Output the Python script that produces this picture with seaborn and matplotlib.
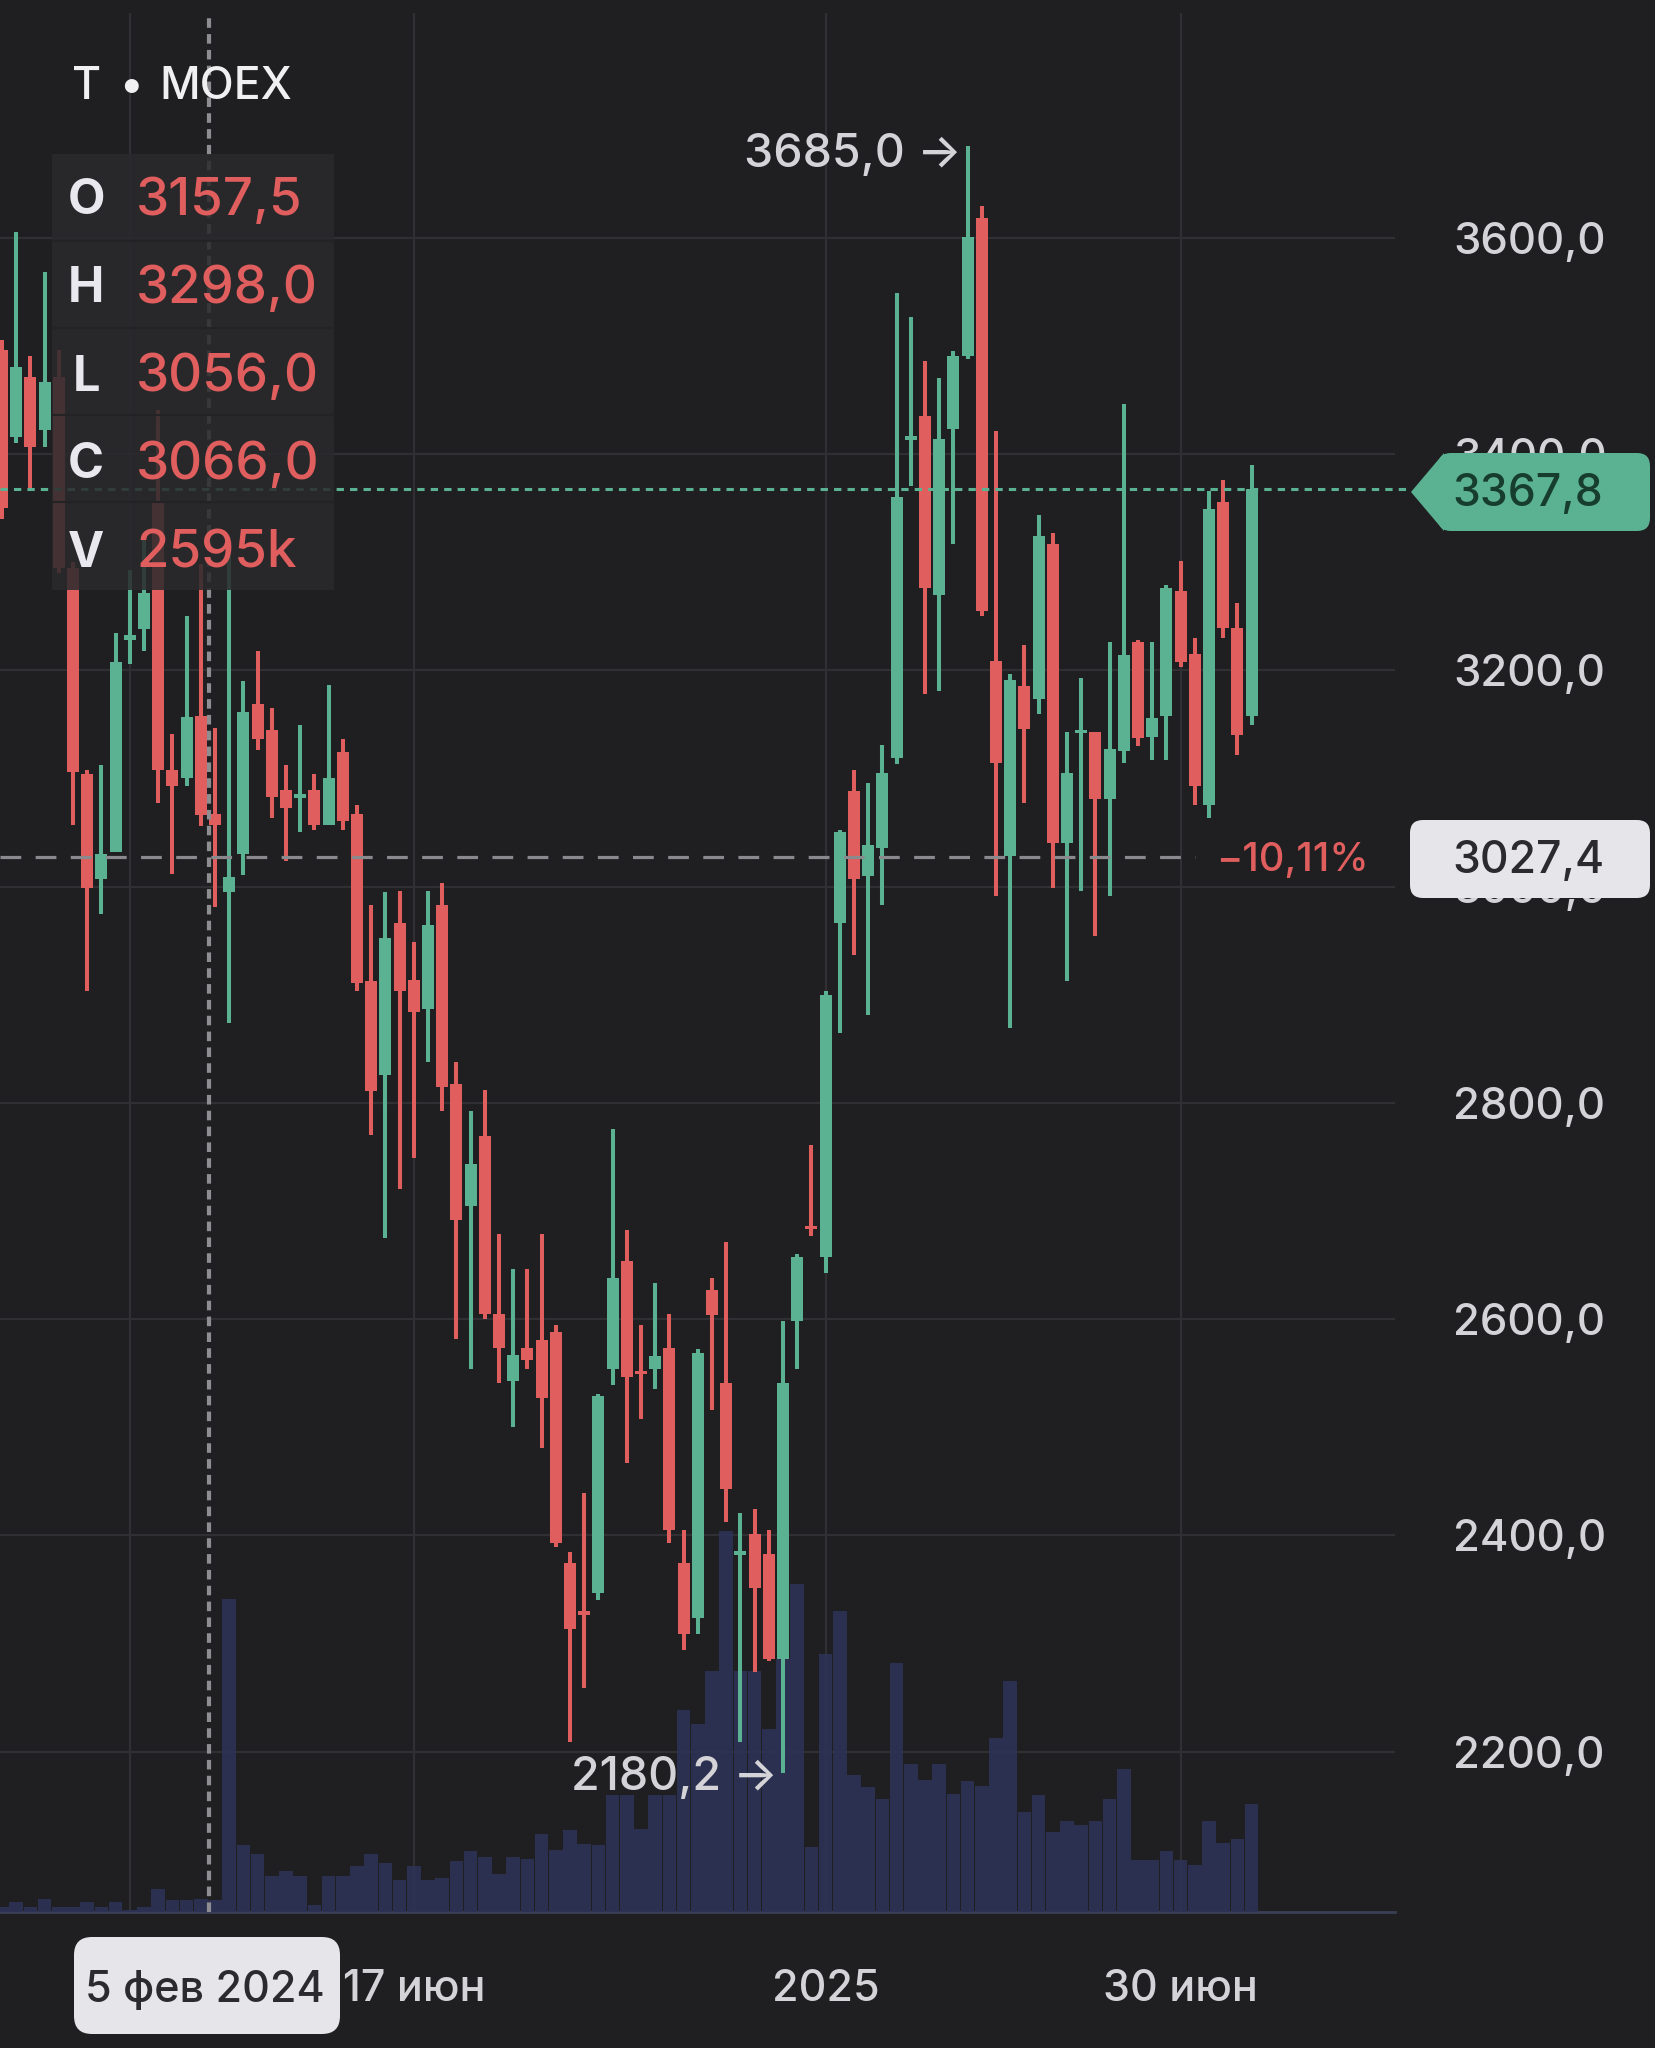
import matplotlib
matplotlib.use("Agg")
import matplotlib.pyplot as plt
from matplotlib.patches import FancyBboxPatch, Polygon, Rectangle
from matplotlib.transforms import IdentityTransform, offset_copy
from matplotlib.lines import Line2D
import numpy as np
import pandas as pd
import seaborn as sns

# ---------------- data (weekly candles, T on MOEX) ----------------
opens = [3496, 3416, 3471, 3422, 3471, 3295, 3104, 3007, 3032, 3228,
         3238, 3355, 3108, 3100, 3157.5, 3067, 2995, 3030, 3169, 3145,
         3089, 3082, 3089, 3057, 3124, 3067, 2913, 2826, 2966, 2914,
         2887, 2983, 2817, 2705, 2769, 2605, 2543, 2573, 2581, 2588,
         2374, 2330, 2347, 2554, 2654, 2551, 2554, 2573, 2374, 2324,
         2627, 2541, 2382, 2401, 2383, 2286, 2598, 2686, 2657, 2966,
         3088, 3010, 3036, 3119, 3413, 3435, 3270, 3423, 3491, 3618,
         3209, 3028, 3185, 3173, 3317, 3040, 3142, 3143, 3081, 3125,
         3226, 3138, 3158, 3273, 3215, 3075, 3356, 3239, 3158]
highs = [3505, 3605, 3491, 3568, 3496, 3300, 3108, 3112, 3234, 3293,
         3320, 3441, 3141, 3250, 3298, 3147, 3306, 3190, 3218, 3165,
         3112, 3149, 3104, 3186, 3136, 3075, 2983, 2995, 2996, 2949,
         2996, 3003, 2838, 2792, 2812, 2679, 2646, 2646, 2679, 2595,
         2385, 2439, 2531, 2776, 2682, 2595, 2633, 2605, 2405, 2572,
         2638, 2671, 2421, 2424, 2405, 2598, 2660, 2761, 2903, 3052,
         3108, 3096, 3131, 3549, 3527, 3486, 3470, 3495, 3685, 3629,
         3421, 3197, 3223, 3344, 3327, 3143, 3193, 3143, 3226, 3446,
         3228, 3226, 3279, 3301, 3230, 3366, 3376, 3262, 3390]
lows = [3340, 3410, 3367, 3406, 3290, 3057, 2903, 2975, 3032, 3206,
        3218, 3077, 3012, 3093, 3056, 2981, 2874, 3011, 3126, 3063,
        3024, 3050, 3052, 3057, 3052, 2903, 2770, 2675, 2720, 2749,
        2838, 2792, 2582, 2554, 2600, 2541, 2500, 2554, 2481, 2389,
        2209, 2259, 2340, 2539, 2467, 2508, 2535, 2393, 2294, 2309,
        2516, 2412, 2209, 2274, 2284, 2180.2, 2554, 2677, 2643, 2865,
        2937, 2881, 2983, 3113, 3370, 3178, 3181, 3317, 3488, 3250,
        2991, 2869, 3077, 3160, 2999, 2913, 2996, 2954, 2991, 3114,
        3130, 3117, 3117, 3203, 3075, 3063, 3230, 3122, 3149]
closes = [3350, 3480, 3406, 3467, 3295, 3106, 2999, 3030, 3208, 3233,
          3271, 3108, 3093, 3157, 3066, 3057, 3009, 3161, 3136, 3083,
          3073, 3084, 3057, 3100, 3061, 2911, 2811, 2952, 2903, 2884,
          2964, 2815, 2692, 2743, 2605, 2573, 2567, 2562, 2527, 2393,
          2313, 2326, 2529, 2638, 2546, 2549, 2566, 2405, 2309, 2569,
          2604, 2443, 2384, 2351, 2286, 2541, 2657, 2683, 2900, 3050,
          3007, 3038, 3105, 3360, 3417, 3276, 3414, 3491, 3601, 3255,
          3114, 3191, 3146, 3324, 3040, 3105, 3144, 3081, 3127, 3214,
          3137, 3156, 3276, 3208, 3093, 3349, 3239, 3140, 3367.8]
volumes_k = [1000, 2000, 1000, 2600, 1000, 1000, 2000, 1000, 2000, 400,
             1000, 4600, 2400, 2400, 2595, 2400, 62600, 13400, 11600, 7200,
             8200, 7200, 1400, 7200, 7200, 9200, 11600, 9800, 6400, 9200,
             6400, 6800, 10200, 12200, 11000, 7600, 11000, 10600, 15600, 12400,
             16400, 13600, 13400, 23400, 23400, 16600, 23400, 23400, 40400, 37600,
             48200, 76200, 48200, 48200, 36600, 50600, 65600, 13000, 51600, 60200,
             27400, 25000, 22600, 49800, 29600, 26400, 29600, 23600, 26200, 25200,
             34800, 46200, 20000, 23400, 16000, 18200, 17400, 18200, 22600, 28600,
             10400, 10400, 12200, 10400, 9400, 18200, 13800, 14600, 21600]
price_ticks = [2200, 2400, 2600, 2800, 3000, 3200, 3400, 3600]
date_grid_idx = [9, 29, 58, 83]
date_labels = ["", "17 июн", "2025", "30 июн"]
crosshair_idx = 14
crosshair_label = "5 фев 2024"
ref_price = 3027.4
ticker = "T"
exchange = "MOEX"
ohlcv_letters = ["O", "H", "L", "C", "V"]

# ---------------- style ----------------
W, H, DPI = 1655, 2048, 100
BG = "#1f1f21"
GREEN = "#5bb292"
RED = "#e05e5e"
VOL = "#2d3255"
GRID = "#303034"
TXT = "#d4d4d8"
FONT = ["Inter", "DejaVu Sans"]
FW = 500

sns.set_theme(style="dark", rc={"axes.facecolor": BG, "figure.facecolor": BG})
plt.rcParams["font.family"] = FONT
plt.rcParams["font.weight"] = FW

def fmt(v):
    return f"{v:.1f}".replace(".", ",")

SP, X0 = 14.2, 2.0            # px per candle, px of first candle
PY0, PSC = 237.7, 1.0814       # px of 3600, px per price unit
def px2idx(px):
    return (px - X0) / SP
def py2price(py):
    return 3600 - (py - PY0) / PSC

fig = plt.figure(figsize=(W / DPI, H / DPI), dpi=DPI, facecolor=BG)
TOP, BOT, RIGHT = 13, 1912, 1395
rect = [0, 1 - BOT / H, RIGHT / W, (BOT - TOP) / H]
xl = (px2idx(0), px2idx(RIGHT))
yl = (py2price(BOT), py2price(TOP))

idx = np.arange(len(opens))
o = np.array(opens, float); c = np.array(closes, float)
h = np.array(highs, float); l = np.array(lows, float)
up = c >= o
cols = np.where(up, GREEN, RED)

# grid axes
axg = fig.add_axes(rect, zorder=0)
axg.set_facecolor(BG)
axg.set_xlim(*xl); axg.set_ylim(*yl)
axg.set_yticks(price_ticks)
axg.set_yticklabels([fmt(v) for v in price_ticks])
axg.set_xticks(date_grid_idx)
axg.set_xticklabels(date_labels)
axg.yaxis.tick_right()
axg.tick_params(axis="y", length=0, pad=42, labelsize=31.5, labelcolor=TXT)
axg.tick_params(axis="x", length=0, pad=41, labelsize=31, labelcolor=TXT)
axg.grid(True, color=GRID, lw=1.6)
for s in ["top", "left", "right"]:
    axg.spines[s].set_visible(False)
axg.spines["bottom"].set_color("#3b3f55")
axg.spines["bottom"].set_linewidth(2)

# volume axes
vax = fig.add_axes(rect, zorder=1)
vdf = pd.DataFrame({"idx": idx, "vol": volumes_k})
sns.barplot(data=vdf, x="idx", y="vol", native_scale=True, width=0.96,
            color=VOL, saturation=1, linewidth=0, errorbar=None, ax=vax)
for p in vax.patches:
    p.set_alpha(0.92)
vax.set_xlim(*xl)
vax.set_ylim(0, (BOT - TOP) * 200)
vax.set_axis_off()

# candle axes
ax = fig.add_axes(rect, zorder=2)
ax.set_xlim(*xl); ax.set_ylim(*yl)
ax.set_axis_off()
ax.vlines(idx, l, h, colors=cols, lw=2.9, zorder=3)
body_lo = np.minimum(o, c)
body_h = np.maximum(np.abs(c - o), 3.2)
ax.bar(idx, body_h, bottom=body_lo, width=0.84, color=cols, linewidth=0, zorder=4)

last = closes[-1]
# last price dotted line
ax.plot([xl[0], px2idx(1411)], [last, last], color=GREEN, lw=2.2,
        dashes=(2.4, 2.0), clip_on=False, zorder=6)
# reference dashed line
ax.plot([xl[0], px2idx(1195)], [ref_price, ref_price], color="#8a8a8e", lw=2.3,
        dashes=(6.5, 4.5), zorder=6)
chg = (ref_price - last) / last * 100
tr_chg = offset_copy(ax.transData, fig=fig, x=0, y=-4, units="dots")
ax.text(px2idx(1216), ref_price, f"{chg:.2f}%".replace(".", ",").replace("-", "−"),
        transform=tr_chg, ha="left", va="center", color=RED, fontsize=28.5, zorder=7)
# crosshair
ax.axvline(crosshair_idx + 0.55, color="#8e8e92", lw=3, dashes=(2.3, 1.5), zorder=6)

# max / min annotations
imax = int(np.argmax(h)); imin = int(np.argmin(l))
tr_hi = offset_copy(ax.transData, fig=fig, x=-6, y=-9, units="dots")
tr_lo = offset_copy(ax.transData, fig=fig, x=-5, y=-5, units="dots")
ax.text(imax, h[imax], fmt(h[imax]) + " →", transform=tr_hi, ha="right",
        va="center", color=TXT, fontsize=33.5, zorder=7)
ax.text(imin, l[imin], fmt(l[imin]) + " →", transform=tr_lo, ha="right",
        va="center", color=TXT, fontsize=33.5, zorder=7)

# ---------------- overlays in pixel space ----------------
ID = IdentityTransform()
def Y(py):
    return H - py

# OHLCV box
fig.add_artist(Rectangle((52, Y(590)), 282, 436, transform=ID,
                         facecolor="#2a2a2d", alpha=0.86, lw=0, zorder=5))
rows = [201, 289, 378, 465, 554]
vals = [fmt(opens[crosshair_idx]), fmt(highs[crosshair_idx]), fmt(lows[crosshair_idx]),
        fmt(closes[crosshair_idx]), f"{volumes_k[crosshair_idx]:.0f}k"]
for ry in [241, 328, 415, 502]:
    fig.add_artist(Line2D([52, 334], [Y(ry), Y(ry)], transform=ID,
                          color="#232325", lw=1.5, zorder=5))
for ry, let, v in zip(rows, ohlcv_letters, vals):
    fig.text(86 / W, 1 - ry / H, let, ha="center", va="center", fontsize=35,
             fontweight="bold", color="#e8e8ee", zorder=6)
    fig.text(136 / W, 1 - ry / H, v, ha="left", va="center", fontsize=38,
             color=RED, zorder=6)

# title: ticker • exchange
fig.text(72 / W, 1 - 87 / H, ticker, ha="left", va="center", fontsize=32,
         color="#f0f0f2", zorder=6)
fig.text(131 / W, 1 - 87 / H, "•", ha="center", va="center", fontsize=32,
         color="#f0f0f2", zorder=6)
fig.text(159 / W, 1 - 87 / H, exchange, ha="left", va="center", fontsize=32,
         color="#f0f0f2", zorder=6)

# last price pill (green, pointed)
fig.add_artist(FancyBboxPatch((1438, Y(531)), 212, 78, transform=ID,
                              boxstyle="round,pad=0,rounding_size=13",
                              facecolor=GREEN, lw=0, zorder=10))
fig.add_artist(Polygon([(1411, Y(492)), (1444, Y(453)), (1444, Y(531))],
                       closed=True, transform=ID, facecolor=GREEN, lw=0, zorder=10))
fig.text(1528 / W, 1 - 494 / H, fmt(last), ha="center", va="center",
         fontsize=32, color="#173d2f", zorder=11)

# reference price pill
fig.add_artist(FancyBboxPatch((1410, Y(898)), 240, 78, transform=ID,
                              boxstyle="round,pad=0,rounding_size=13",
                              facecolor="#e5e5ea", lw=0, zorder=10))
fig.text(1528 / W, 1 - 861 / H, fmt(ref_price), ha="center", va="center",
         fontsize=32, color="#2b2b2f", zorder=11)

# crosshair date pill
fig.add_artist(FancyBboxPatch((74, Y(2034)), 266, 97, transform=ID,
                              boxstyle="round,pad=0,rounding_size=18",
                              facecolor="#e5e5ea", lw=0, zorder=10))
fig.text(205 / W, 1 - 1990 / H, crosshair_label, ha="center", va="center",
         fontsize=31, color="#2b2b2f", zorder=11)

fig.savefig("out.png", dpi=DPI, facecolor=BG)
